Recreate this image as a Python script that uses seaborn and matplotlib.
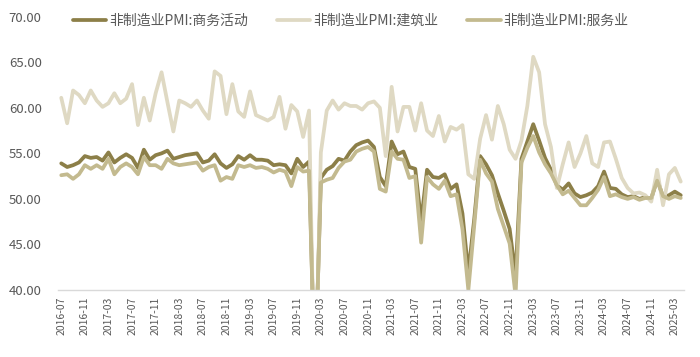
import numpy as np
import pandas as pd
import matplotlib
matplotlib.use('Agg')
import matplotlib.pyplot as plt
import seaborn as sns

# monthly categories 2016-07 .. 2025-04
months = pd.period_range('2016-07', '2025-04', freq='M').strftime('%Y-%m').tolist()

business = [
    53.9, 53.5, 53.7, 54.0, 54.7, 54.5,
    54.6, 54.2, 55.1, 54.0, 54.5, 54.9, 54.5, 53.4, 55.4, 54.3, 54.8, 55.0,
    55.3, 54.4, 54.6, 54.8, 54.9, 55.0, 54.0, 54.2, 54.9, 53.9, 53.4, 53.8,
    54.7, 54.3, 54.8, 54.3, 54.3, 54.2, 53.7, 53.8, 53.7, 52.8, 54.4, 53.5,
    54.1, 29.6, 52.3, 53.2, 53.6, 54.4, 54.2, 55.2, 55.9, 56.2, 56.4, 55.7,
    52.4, 51.4, 56.3, 54.9, 55.2, 53.5, 53.3, 47.5, 53.2, 52.4, 52.3, 52.7,
    51.1, 51.6, 48.4, 41.9, 47.8, 54.7, 53.8, 52.6, 50.6, 48.7, 46.7, 41.6,
    54.4, 56.3, 58.2, 56.4, 54.5, 53.2, 51.5, 51.0, 51.7, 50.6, 50.2, 50.4,
    50.7, 51.4, 53.0, 51.2, 51.1, 50.5, 50.2, 50.3, 50.0, 50.2, 50.0, 52.2,
    50.2, 50.4, 50.8, 50.4,
]

construction = [
    61.1, 58.3, 61.9, 61.4, 60.5, 61.9,
    60.8, 60.1, 60.5, 61.6, 60.5, 61.0, 62.6, 58.1, 61.1, 58.6, 61.6, 63.9,
    60.6, 57.4, 60.8, 60.5, 60.1, 60.8, 59.7, 58.8, 64.0, 63.5, 59.3, 62.6,
    59.6, 59.0, 61.8, 59.2, 58.9, 58.6, 59.0, 61.2, 57.7, 60.3, 59.6, 56.8,
    59.7, 26.6, 55.1, 59.7, 60.8, 59.8, 60.5, 60.2, 60.2, 59.8, 60.5, 60.7,
    60.0, 54.7, 62.3, 57.4, 60.1, 60.1, 57.5, 60.5, 57.5, 56.9, 59.1, 56.3,
    57.9, 57.6, 58.1, 52.7, 52.2, 56.6, 59.2, 56.5, 60.2, 58.2, 55.4, 54.4,
    56.4, 60.2, 65.6, 63.9, 58.2, 55.7, 51.2, 53.8, 56.2, 53.5, 55.0, 56.9,
    53.9, 53.5, 56.2, 56.3, 54.4, 52.3, 51.2, 50.6, 50.7, 50.4, 49.7, 53.2,
    49.3, 52.7, 53.4, 51.9,
]

services = [
    52.6, 52.7, 52.2, 52.7, 53.7, 53.3,
    53.7, 53.3, 54.4, 52.7, 53.5, 53.9, 53.5, 52.7, 54.6, 53.7, 53.7, 53.3,
    54.4, 53.9, 53.7, 53.8, 53.9, 54.0, 53.1, 53.5, 53.7, 52.0, 52.4, 52.2,
    53.7, 53.5, 53.7, 53.4, 53.5, 53.3, 52.9, 53.2, 53.0, 51.4, 53.5, 53.0,
    53.1, 30.1, 51.8, 52.1, 52.3, 53.4, 54.1, 54.3, 55.2, 55.5, 55.7, 55.2,
    51.1, 50.8, 55.2, 54.4, 54.3, 52.3, 52.5, 45.2, 52.4, 51.6, 51.1, 52.0,
    50.3, 50.5, 46.7, 40.0, 47.1, 54.3, 52.8, 51.9, 48.9, 47.0, 45.1, 39.4,
    54.0, 55.6, 56.9, 55.1, 53.8, 52.8, 51.5, 50.5, 50.9, 50.1, 49.3, 49.3,
    50.1, 51.0, 52.4, 50.3, 50.5, 50.2, 50.0, 50.2, 49.9, 50.1, 50.1, 52.0,
    50.3, 50.0, 50.3, 50.1,
]

series_names = ['非制造业PMI:商务活动', '非制造业PMI:建筑业', '非制造业PMI:服务业']
colors = ['#8C7F48', '#DFD9C3', '#C3BA8F']
yticks = [40, 45, 50, 55, 60, 65, 70]

df = pd.DataFrame({
    'idx': np.arange(len(months)),
    'month': months,
    series_names[0]: business,
    series_names[1]: construction,
    series_names[2]: services,
})

sns.set_theme(style='white')
plt.rcParams['font.family'] = ['Noto Sans CJK SC', 'DejaVu Sans']
text_color = '#595959'
axis_color = '#D9D9D9'

fig = plt.figure(figsize=(7, 3.57), dpi=100)
ax = fig.add_axes([0.0833, 0.1877, 0.8934, 0.7655])

for name, col in zip(series_names, colors):
    sns.lineplot(data=df, x='idx', y=name, ax=ax, color=col, linewidth=2.7,
                 label=name, sort=False, solid_joinstyle='round', solid_capstyle='round')

ax.set_xlim(-0.5, len(months) - 0.5)
ax.set_ylim(40, 70)
ax.set_xlabel('')
ax.set_ylabel('')

for s in ['left', 'right', 'top']:
    ax.spines[s].set_visible(False)
ax.spines['bottom'].set_color(axis_color)
ax.spines['bottom'].set_linewidth(1)

# labels at categories, tick marks between categories
label_pos = df['idx'].values[::4]
ax.set_xticks(label_pos)
ax.set_xticklabels(df['month'].values[::4], rotation=90, fontsize=7.5, color=text_color)
ax.set_xticks(np.arange(-0.5, len(months), 4), minor=True)
ax.tick_params(axis='x', which='major', length=0, pad=5)
ax.tick_params(axis='x', which='minor', length=4, width=1, color=axis_color, direction='out')

ax.set_yticks(yticks)
ax.set_yticklabels([f'{v:.2f}' for v in yticks], fontsize=9.5, color=text_color)
ax.tick_params(axis='y', length=0, pad=12)
ax.grid(False)

ax.legend(loc='center left', bbox_to_anchor=(73 / 700, 1 - 21 / 357),
          bbox_transform=fig.transFigure, ncol=3, frameon=False, fontsize=10,
          handlelength=2.4, handletextpad=0.2, columnspacing=2.1, borderpad=0,
          borderaxespad=0, labelcolor=text_color)

fig.savefig('out.png', dpi=100, facecolor='white')
